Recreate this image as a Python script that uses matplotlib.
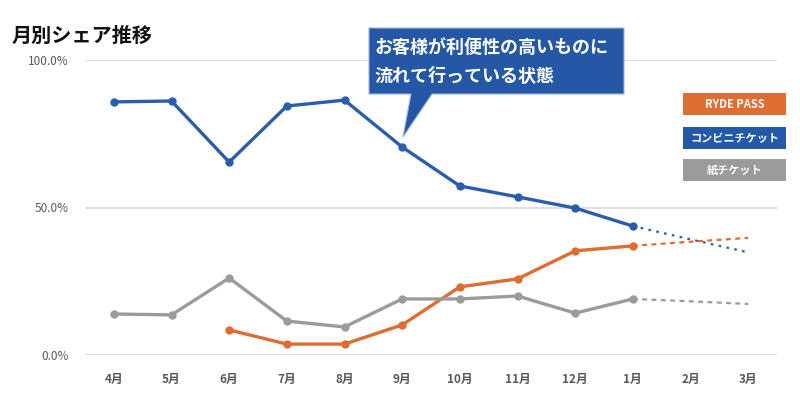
import numpy as np
import matplotlib.pyplot as plt
from matplotlib.patches import Rectangle, Polygon

plt.rcParams['font.family'] = ['Noto Sans CJK JP', 'DejaVu Sans']

# データ
months = ['4月', '5月', '6月', '7月', '8月', '9月', '10月', '11月', '12月', '1月', '2月', '3月']
konbini = [85.8, 86.1, 65.4, 84.4, 86.4, 70.5, 57.3, 53.6, 49.8, 43.7, None, None]
ryde = [None, None, 8.5, 3.7, 3.7, 10.2, 23.1, 25.8, 35.3, 37.0, None, None]
paper = [13.9, 13.6, 26.1, 11.5, 9.5, 19.0, 19.0, 20.0, 14.2, 19.0, None, None]
# 予測 (1月〜3月)
konbini_fc = [43.7, 39.2, 34.8]
ryde_fc = [37.0, 38.4, 39.7]
paper_fc = [19.0, 18.2, 17.3]

c_blue = '#2A5DAD'
c_orange = '#DF6C31'
c_gray = '#9B9B9B'

W, H = 800, 398
fig = plt.figure(figsize=(W / 100, H / 100), dpi=100)
ax = fig.add_axes([85 / W, 1 - 355 / H, 692 / W, 295 / H])

x = np.arange(len(months))

def solid(vals, color):
    xs = [i for i, v in enumerate(vals) if v is not None]
    ys = [vals[i] for i in xs]
    ax.plot(xs, ys, color=color, lw=2.4, marker='o', ms=5, zorder=3)

solid(konbini, c_blue)
solid(ryde, c_orange)
solid(paper, c_gray)

xf = x[9:]
ax.plot(xf, konbini_fc, color=c_blue, lw=1.6, ls=(0, (1.2, 2.4)), zorder=2)
ax.plot(xf, ryde_fc, color=c_orange, lw=1.6, ls=(0, (2.2, 2.0)), zorder=2)
ax.plot(xf, paper_fc, color=c_gray, lw=1.6, ls=(0, (2.2, 2.0)), zorder=2)

ax.set_xlim(-0.5, 11.5)
ax.set_ylim(0, 100)
ax.set_yticks([0, 50, 100])
ax.set_yticklabels(['0.0%', '50.0%', '100.0%'])
ax.set_xticks(x)
ax.set_xticklabels(months)
ax.grid(axis='y', color='#D9D9D9', lw=1.2)
ax.set_axisbelow(True)
for s in ax.spines.values():
    s.set_visible(False)
ax.tick_params(length=0, colors='#595959', labelsize=8.5)
ax.tick_params(axis='y', pad=12)
ax.tick_params(axis='x', pad=13)
for lab in ax.get_xticklabels():
    lab.set_fontweight('bold')

# タイトル
fig.text(12 / W, 1 - 35 / H, '月別シェア推移', fontsize=14.5, fontweight='bold',
         va='center', ha='left', color='#111111')

# 吹き出し
pts = [(369, 28), (624, 28), (624, 94), (432, 94), (403, 137), (411, 94), (369, 94)]
fig.patches.append(Polygon([(px / W, 1 - py / H) for px, py in pts], closed=True,
                           transform=fig.transFigure, facecolor='#2457A6',
                           edgecolor='#9DB3D8', lw=0.8, zorder=5))
fig.text(374 / W, 1 - 47 / H, 'お客様が利便性の高いものに', fontsize=13, fontweight='bold',
         color='white', va='center', ha='left', zorder=6)
fig.text(374 / W, 1 - 76 / H, '流れて行っている状態', fontsize=13, fontweight='bold',
         color='white', va='center', ha='left', zorder=6)

# 凡例
legend_items = [('RYDE PASS', c_orange, 93), ('コンビニチケット', '#2459AA', 127), ('紙チケット', c_gray, 159)]
for label, col, top in legend_items:
    fig.patches.append(Rectangle((683 / W, 1 - (top + 22) / H), 103 / W, 22 / H,
                                 transform=fig.transFigure, facecolor=col,
                                 edgecolor='none', zorder=5))
    fig.text(734.5 / W, 1 - (top + 11) / H, label, fontsize=8, fontweight='bold',
             color='white', va='center', ha='center', zorder=6)

fig.savefig('out.png', dpi=100)
